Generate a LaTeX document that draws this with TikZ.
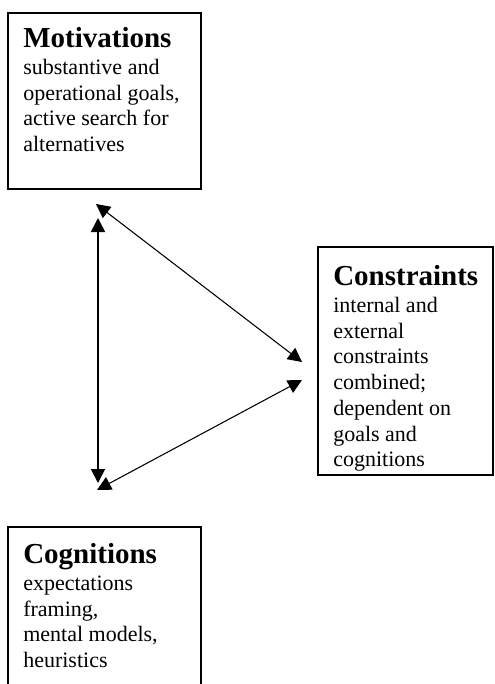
\documentclass[tikz,border=0pt]{standalone}
\usepackage{fontspec}
\setmainfont{Liberation Serif}
\usetikzlibrary{arrows.meta,positioning}
\newcommand{\boxtitle}[1]{{\fontsize{21.75}{24}\selectfont\bfseries #1}}

\begin{document}
\begin{tikzpicture}[x=0.75pt,y=-0.75pt,
    frame/.style={draw,line width=0.8pt,minimum width=144.75pt},
    body/.style={anchor=north west,inner sep=0pt,align=left,font=\fontsize{16.5}{19.3}\selectfont},
    link/.style={{Triangle[length=10.5pt,width=10.5pt]}-{Triangle[length=10.5pt,width=10.5pt]},line width=0.8pt}]
  \useasboundingbox (0,0) rectangle (494,684);
  \clip (0,0) rectangle (494,684);
  % boxes
  \node[frame,minimum height=132pt] (mot) at (104.5,101) {};
  \node[frame,minimum width=131.25pt,minimum height=171pt] (con) at (405.5,361) {};
  \node[frame,minimum height=144.75pt] (cog) at (104.5,623.5) {};
  % texts
  \node[body] (motText) at (23,27) {\boxtitle{Motivations}\\[1pt]
    substantive and\\ operational goals,\\ active search for\\ alternatives};
  \node[body] (conText) at (333,265) {\boxtitle{Constraints}\\[1pt]
    internal and\\ external\\ constraints\\ combined;\\ dependent on\\ goals and\\ cognitions};
  \node[body] (cogText) at (23,543) {\boxtitle{Cognitions}\\[1pt]
    expectations\\ framing,\\ mental models,\\ heuristics};
  % arrow ends
  \coordinate (motV) at (98,218);
  \coordinate (cogV) at (98,483);
  \coordinate (motD) at (96,204);
  \coordinate (conU) at (302,362);
  \coordinate (cogD) at (97,490);
  \coordinate (conL) at (302,380);
  % arrows
  \draw[link,line width=1.3pt] (motV) -- (cogV);
  \draw[link] (motD) -- (conU);
  \draw[link] (cogD) -- (conL);
\end{tikzpicture}
\end{document}
